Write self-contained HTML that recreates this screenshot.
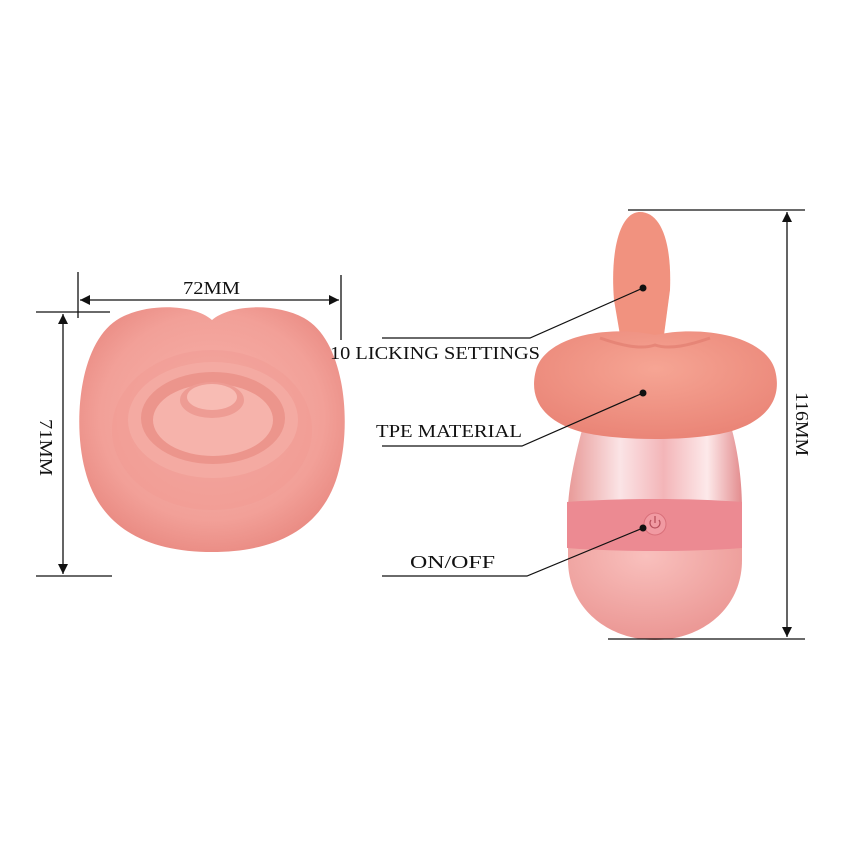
<!DOCTYPE html>
<html><head><meta charset="utf-8"><style>
html,body{margin:0;padding:0;background:#fff;}
svg{display:block}
text{font-family:"Liberation Serif",serif;fill:#111;}
</style></head><body>
<svg width="850" height="850" viewBox="0 0 850 850" xmlns="http://www.w3.org/2000/svg">
<defs>
<radialGradient id="lip" cx="50%" cy="45%" r="60%">
<stop offset="0" stop-color="#f7b2aa"/><stop offset="0.7" stop-color="#f2a098"/><stop offset="1" stop-color="#e8877f"/>
</radialGradient>
<radialGradient id="head" cx="50%" cy="35%" r="65%">
<stop offset="0" stop-color="#f6a594"/><stop offset="1" stop-color="#ea8577"/>
</radialGradient>
<linearGradient id="chrome" x1="0" x2="1" y1="0" y2="0">
<stop offset="0" stop-color="#e89a98"/><stop offset="0.3" stop-color="#fbe4e6"/><stop offset="0.55" stop-color="#f3b5b8"/><stop offset="0.8" stop-color="#fde9ea"/><stop offset="1" stop-color="#e38c8e"/>
</linearGradient>
<radialGradient id="base" cx="45%" cy="30%" r="70%">
<stop offset="0" stop-color="#f9c0bd"/><stop offset="1" stop-color="#eb9794"/>
</radialGradient>
<marker id="ar" viewBox="0 0 10 10" refX="10" refY="5" markerWidth="10" markerHeight="10" orient="auto-start-reverse" markerUnits="userSpaceOnUse">
<path d="M0,0 L10,5 L0,10 z" fill="#111"/></marker>
</defs>

<!-- Left mouth -->
<path d="M212,320 C195,305 150,302 120,318 C80,340 72,420 85,470 C100,530 150,552 212,552 C274,552 324,530 339,470 C352,420 344,340 304,318 C274,302 229,305 212,320 Z" fill="url(#lip)"/>
<ellipse cx="212" cy="430" rx="100" ry="80" fill="#ef9890" opacity="0.4"/>
<ellipse cx="213" cy="420" rx="85" ry="58" fill="#f4aaa2"/>
<ellipse cx="213" cy="418" rx="72" ry="46" fill="#ec958c"/>
<ellipse cx="213" cy="420" rx="60" ry="36" fill="#f6b3ab"/>
<ellipse cx="212" cy="400" rx="32" ry="18" fill="#ee9c94"/>
<ellipse cx="212" cy="397" rx="25" ry="13" fill="#f8bcb4"/>

<!-- Left dimensions -->
<line x1="78" y1="272" x2="78" y2="318" stroke="#111" stroke-width="1.3"/>
<line x1="341" y1="275" x2="341" y2="340" stroke="#111" stroke-width="1.3"/>
<line x1="80" y1="300" x2="339" y2="300" stroke="#111" stroke-width="1.3" marker-start="url(#ar)" marker-end="url(#ar)"/>
<text x="183" y="294" font-size="18" textLength="57" lengthAdjust="spacingAndGlyphs">72MM</text>
<line x1="36" y1="312" x2="110" y2="312" stroke="#111" stroke-width="1.3"/>
<line x1="36" y1="576" x2="112" y2="576" stroke="#111" stroke-width="1.3"/>
<line x1="63" y1="314" x2="63" y2="574" stroke="#111" stroke-width="1.3" marker-start="url(#ar)" marker-end="url(#ar)"/>
<text x="-28" y="0" font-size="18" textLength="57" lengthAdjust="spacingAndGlyphs" transform="translate(40,447) rotate(90)">71MM</text>

<!-- Right device -->
<path d="M568,520 L742,520 L742,560 C742,610 700,640 655,640 C610,640 568,610 568,560 Z" fill="url(#base)"/>
<path d="M582,430 L732,430 C740,460 742,490 742,510 L568,510 C568,490 574,460 582,430 Z" fill="url(#chrome)"/>
<path d="M567,502 C620,498 690,498 742,502 L742,548 C690,552 620,552 567,548 Z" fill="#ec8a92"/>
<circle cx="655" cy="524" r="11" fill="#f19aa2" stroke="#d9707a" stroke-width="1"/>
<path d="M651,520 A5,5 0 1 0 659,520" fill="none" stroke="#b8505c" stroke-width="1.3"/>
<line x1="655" y1="516" x2="655" y2="523" stroke="#b8505c" stroke-width="1.3"/>
<path d="M640,212 C620,212 610,250 614,300 L620,335 L664,335 L670,290 C672,240 660,212 640,212 Z" fill="#f1927f"/>
<path d="M655,335 C700,325 765,335 775,370 C783,400 765,420 735,430 C700,442 610,442 575,430 C545,420 528,400 536,370 C546,335 610,325 655,335 Z" fill="url(#head)"/>
<path d="M600,338 C620,345 640,350 655,345 C670,350 690,345 710,338" fill="none" stroke="#e07a6c" stroke-width="3" opacity="0.6"/>

<!-- Right dimension -->
<line x1="628" y1="210" x2="805" y2="210" stroke="#111" stroke-width="1.3"/>
<line x1="608" y1="639" x2="805" y2="639" stroke="#111" stroke-width="1.3"/>
<line x1="787" y1="212" x2="787" y2="637" stroke="#111" stroke-width="1.3" marker-start="url(#ar)" marker-end="url(#ar)"/>
<text x="-32" y="0" font-size="18" textLength="64" lengthAdjust="spacingAndGlyphs" transform="translate(796,424) rotate(90)">116MM</text>

<!-- Callouts -->
<polyline points="382,338 530,338 643,288" fill="none" stroke="#111" stroke-width="1.2"/>
<circle cx="643" cy="288" r="3.5" fill="#111"/>
<text x="330" y="359" font-size="18" textLength="210" lengthAdjust="spacingAndGlyphs">10 LICKING SETTINGS</text>
<polyline points="382,446 522,446 643,393" fill="none" stroke="#111" stroke-width="1.2"/>
<circle cx="643" cy="393" r="3.5" fill="#111"/>
<text x="376" y="437" font-size="18" textLength="146" lengthAdjust="spacingAndGlyphs">TPE MATERIAL</text>
<polyline points="382,576 527,576 643,528" fill="none" stroke="#111" stroke-width="1.2"/>
<circle cx="643" cy="528" r="3.5" fill="#111"/>
<text x="410" y="568" font-size="18" textLength="85" lengthAdjust="spacingAndGlyphs">ON/OFF</text>
</svg>
</body></html>
